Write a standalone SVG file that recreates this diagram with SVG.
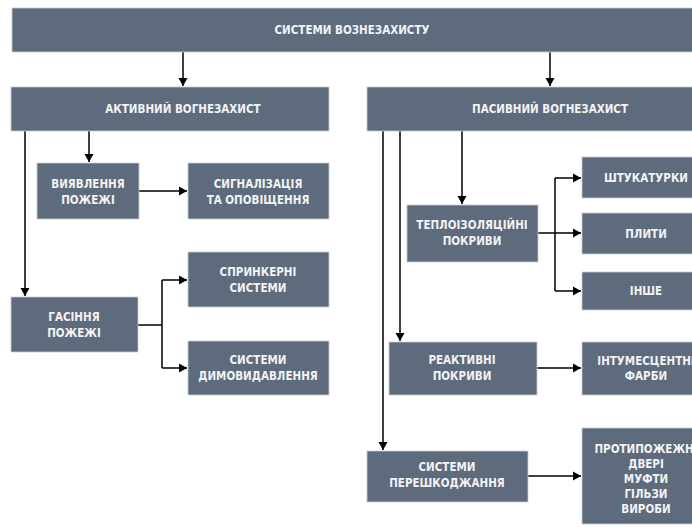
<svg xmlns="http://www.w3.org/2000/svg" width="692" height="528" viewBox="0 0 692 528">
<style>
.box{fill:#5e6b7c;stroke:#c9ced5;stroke-width:0.8}
.t{font-family:"DejaVu Sans Condensed","DejaVu Sans",sans-serif;font-weight:bold;font-size:11.5px;fill:#f2f3f5;text-anchor:middle;dominant-baseline:central}
.c{fill:none;stroke:#000;stroke-width:1.5}
</style>
<defs>
<marker id="ah" markerWidth="10" markerHeight="10" refX="8" refY="5" orient="auto" markerUnits="userSpaceOnUse">
<path d="M0,0.5 L8,5 L0,9.5 Z" fill="#000"/>
</marker>
</defs>
<g id="connectors">
<path class="c" d="M183,52 V86" marker-end="url(#ah)"/>
<path class="c" d="M550,52 V86" marker-end="url(#ah)"/>
<path class="c" d="M25,131 V296" marker-end="url(#ah)"/>
<path class="c" d="M89,131 V162" marker-end="url(#ah)"/>
<path class="c" d="M139,191 H187" marker-end="url(#ah)"/>
<path class="c" d="M138,325 H162"/>
<path class="c" d="M162,280 V368"/>
<path class="c" d="M162,280 H187" marker-end="url(#ah)"/>
<path class="c" d="M162,368 H187" marker-end="url(#ah)"/>
<path class="c" d="M383,131 V450" marker-end="url(#ah)"/>
<path class="c" d="M400,131 V341" marker-end="url(#ah)"/>
<path class="c" d="M462,131 V204" marker-end="url(#ah)"/>
<path class="c" d="M538,233 H581" marker-end="url(#ah)"/>
<path class="c" d="M555,178 V291"/>
<path class="c" d="M555,178 H581" marker-end="url(#ah)"/>
<path class="c" d="M555,291 H581" marker-end="url(#ah)"/>
<path class="c" d="M537,368 H581" marker-end="url(#ah)"/>
<path class="c" d="M528,476 H581" marker-end="url(#ah)"/>
</g>
<g id="root"><rect class="box" x="12" y="8" width="700" height="44"/><text class="t" x="352" y="30">СИСТЕМИ ВОЗНЕЗАХИСТУ</text></g>
<g id="active"><rect class="box" x="11" y="87" width="318" height="44"/><text class="t" x="183" y="109">АКТИВНИЙ ВОГНЕЗАХИСТ</text></g>
<g id="passive"><rect class="box" x="367" y="87" width="360" height="44"/><text class="t" x="550" y="109">ПАСИВНИЙ ВОГНЕЗАХИСТ</text></g>
<g id="detection"><rect class="box" x="37" y="163" width="102" height="56"/><text class="t" x="88" y="184">ВИЯВЛЕННЯ</text><text class="t" x="88" y="200">ПОЖЕЖІ</text></g>
<g id="signal"><rect class="box" x="188" y="163" width="141" height="56"/><text class="t" x="258" y="184">СИГНАЛІЗАЦІЯ</text><text class="t" x="258" y="200">ТА ОПОВІЩЕННЯ</text></g>
<g id="extinguish"><rect class="box" x="11" y="297" width="127" height="55"/><text class="t" x="74" y="317">ГАСІННЯ</text><text class="t" x="74" y="333">ПОЖЕЖІ</text></g>
<g id="sprinkler"><rect class="box" x="188" y="252" width="141" height="55"/><text class="t" x="258" y="272">СПРИНКЕРНІ</text><text class="t" x="258" y="288">СИСТЕМИ</text></g>
<g id="smoke"><rect class="box" x="188" y="341" width="141" height="54"/><text class="t" x="258" y="360">СИСТЕМИ</text><text class="t" x="258" y="376">ДИМОВИДАВЛЕННЯ</text></g>
<g id="thermal"><rect class="box" x="407" y="205" width="131" height="57"/><text class="t" x="472" y="225">ТЕПЛОІЗОЛЯЦІЙНІ</text><text class="t" x="472" y="241">ПОКРИВИ</text></g>
<g id="plaster"><rect class="box" x="582" y="157" width="128" height="41"/><text class="t" x="646" y="177.5">ШТУКАТУРКИ</text></g>
<g id="boards"><rect class="box" x="582" y="213" width="128" height="41"/><text class="t" x="646" y="233.5">ПЛИТИ</text></g>
<g id="other"><rect class="box" x="582" y="272" width="128" height="38"/><text class="t" x="646" y="291">ІНШЕ</text></g>
<g id="reactive"><rect class="box" x="389" y="342" width="148" height="53"/><text class="t" x="462" y="360">РЕАКТИВНІ</text><text class="t" x="462" y="376">ПОКРИВИ</text></g>
<g id="intumescent"><rect class="box" x="582" y="342" width="128" height="53"/><text class="t" x="646" y="361">ІНТУМЕСЦЕНТНІ</text><text class="t" x="646" y="376">ФАРБИ</text></g>
<g id="barrier"><rect class="box" x="367" y="451" width="161" height="51"/><text class="t" x="447" y="467">СИСТЕМИ</text><text class="t" x="447" y="483">ПЕРЕШКОДЖАННЯ</text></g>
<g id="fireproof"><rect class="box" x="582" y="428" width="128" height="96"/><text class="t" x="646" y="449">ПРОТИПОЖЕЖНІ</text><text class="t" x="646" y="464">ДВЕРІ</text><text class="t" x="646" y="479">МУФТИ</text><text class="t" x="646" y="494">ГІЛЬЗИ</text><text class="t" x="646" y="509">ВИРОБИ</text></g>
</svg>
